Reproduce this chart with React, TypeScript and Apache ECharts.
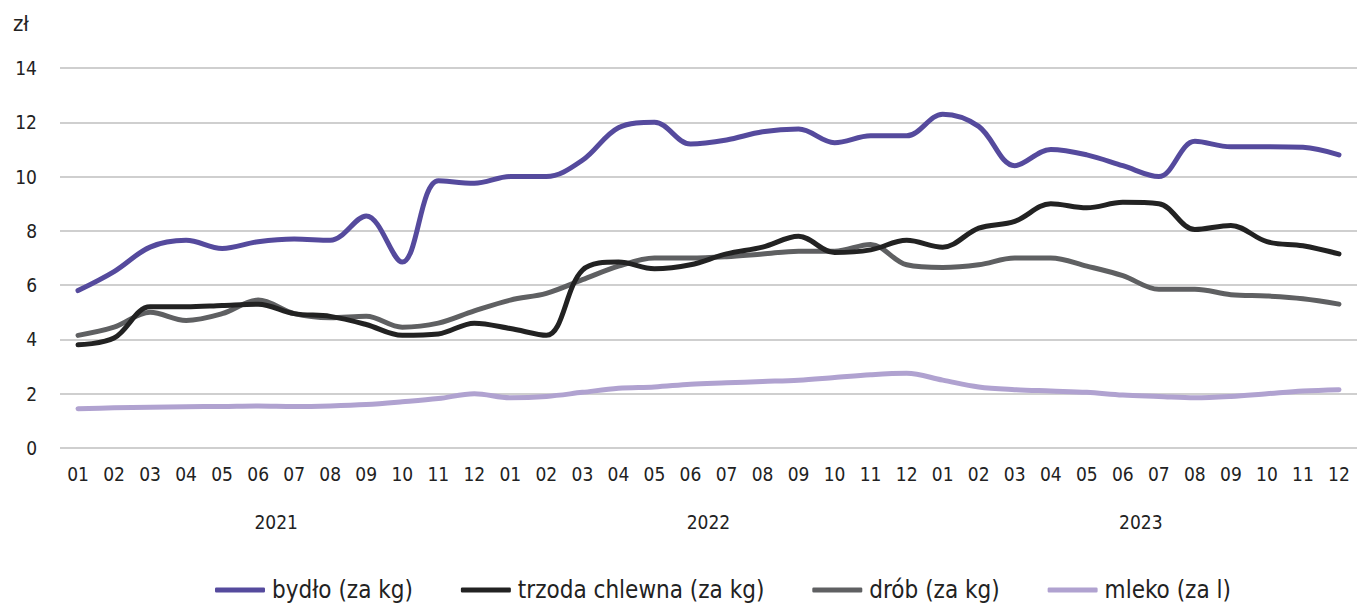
import React, { useEffect, useRef } from "react";
import * as echarts from "echarts";

const months = [
  "01","02","03","04","05","06","07","08","09","10","11","12",
  "01","02","03","04","05","06","07","08","09","10","11","12",
  "01","02","03","04","05","06","07","08","09","10","11","12",
];
const years = ["2021", "2022", "2023"];
const yTicks = { min: 0, max: 14, interval: 2 };
const unit = "zł";

const bydlo = [
  5.8, 6.5, 7.4, 7.65, 7.35, 7.6, 7.7, 7.65, 8.55, 6.85, 9.85, 9.75,
  10.0, 10.0, 10.6, 11.8, 12.0, 11.2, 11.35, 11.65, 11.75, 11.25, 11.5, 11.5,
  12.3, 11.85, 10.4, 11.0, 10.8, 10.4, 10.0, 11.3, 11.1, 11.1, 11.08, 10.8,
];
const trzoda = [
  3.8, 4.05, 5.2, 5.2, 5.25, 5.3, 4.95, 4.85, 4.55, 4.15, 4.2, 4.6,
  4.4, 4.15, 6.55, 6.85, 6.6, 6.75, 7.15, 7.4, 7.8, 7.2, 7.3, 7.65,
  7.4, 8.1, 8.35, 9.0, 8.85, 9.05, 9.0, 8.05, 8.2, 7.6, 7.45, 7.15,
];
const drob = [
  4.15, 4.45, 5.0, 4.7, 4.95, 5.45, 4.95, 4.8, 4.85, 4.45, 4.6, 5.05,
  5.45, 5.7, 6.2, 6.7, 7.0, 7.0, 7.05, 7.15, 7.25, 7.25, 7.5, 6.75,
  6.65, 6.75, 7.0, 7.0, 6.7, 6.35, 5.85, 5.85, 5.65, 5.6, 5.5, 5.3,
];
const mleko = [
  1.45, 1.48, 1.5, 1.52, 1.53, 1.55, 1.53, 1.55, 1.6, 1.7, 1.82, 2.0,
  1.85, 1.9, 2.05, 2.2, 2.25, 2.35, 2.4, 2.45, 2.5, 2.6, 2.7, 2.75,
  2.5, 2.25, 2.15, 2.1, 2.05, 1.95, 1.9, 1.85, 1.9, 2.0, 2.1, 2.15,
];

const seriesNames = ["bydło (za kg)", "trzoda chlewna (za kg)", "drób (za kg)", "mleko (za l)"];
const seriesData = [bydlo, trzoda, drob, mleko];
const colors = ["#554a9d", "#222222", "#5f6062", "#b0a2d0"];

const FONT = "'Liberation Sans Narrow', 'DejaVu Sans Condensed', 'Roboto', sans-serif";

export default function App() {
  const ref = useRef<HTMLDivElement>(null);
  useEffect(() => {
    if (!ref.current) return;
    const chart = echarts.init(ref.current, undefined, { renderer: "svg" });
    chart.setOption({
      animation: false,
      textStyle: { fontFamily: FONT, color: "#222" },
      grid: { left: 60, right: -2, top: 68, bottom: 160 },
      legend: {
        top: 572,
        left: 210,
        itemWidth: 50,
        itemHeight: 5,
        itemGap: 48,
        icon: "roundRect",
        textStyle: { fontSize: 24, lineHeight: 26, fontFamily: FONT, color: "#222", padding: [0, 0, 0, 2] },
        data: seriesNames,
      },
      xAxis: [
        {
          type: "category",
          data: months,
          boundaryGap: true,
          axisLine: { show: false },
          axisTick: { show: false },
          axisLabel: { fontSize: 19, fontFamily: FONT, color: "#222", margin: 16, interval: 0 },
        },
        {
          type: "category",
          data: years,
          position: "bottom",
          boundaryGap: true,
          axisLine: { show: false },
          axisTick: { show: false },
          axisLabel: { fontSize: 19, fontFamily: FONT, color: "#222", margin: 64 },
        },
      ],
      yAxis: {
        type: "value",
        min: yTicks.min,
        max: yTicks.max,
        interval: yTicks.interval,
        name: unit,
        nameLocation: "end",
        nameGap: 34,
        nameTextStyle: {
          fontSize: 22,
          fontFamily: FONT,
          color: "#222",
          align: "right",
          padding: [0, 31, 0, 0],
        },
        axisLabel: { fontSize: 19, fontFamily: FONT, color: "#222", margin: 23 },
        splitLine: { lineStyle: { color: "#bfbfbf", width: 1.5 } },
        axisLine: { show: false },
        axisTick: { show: false },
      },
      series: seriesNames.map((name, i) => ({
        name,
        type: "line",
        xAxisIndex: 0,
        data: seriesData[i],
        smooth: 0.35,
        symbol: "none",
        color: colors[i],
        lineStyle: { width: 5, color: colors[i], cap: "round", join: "round" },
        z: 10 - i,
      })),
    });
    return () => chart.dispose();
  }, []);
  return (
    <div
      ref={ref}
      style={{ position: "absolute", left: 0, top: 0, width: 1357, height: 608 }}
    />
  );
}
